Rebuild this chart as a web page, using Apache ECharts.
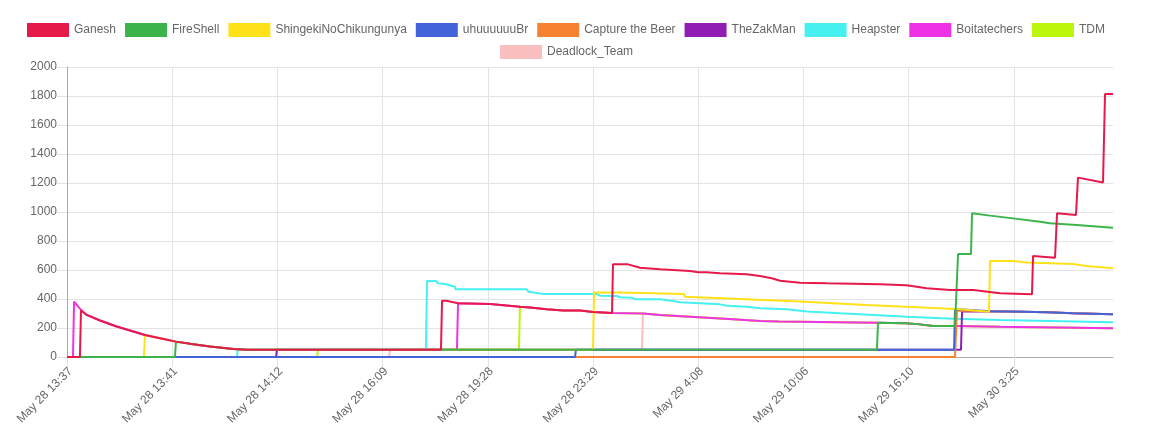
<!DOCTYPE html>
<html><head><meta charset="utf-8">
<script src="https://cdn.jsdelivr.net/npm/echarts@6/dist/echarts.min.js"></script>
<style>html,body{margin:0;padding:0;background:#fff}#c{width:1163px;height:443px}</style>
</head><body><div id="c"></div><script>
const tickLabels = ['May 28 13:37','May 28 13:41','May 28 14:12','May 28 16:09','May 28 19:28','May 28 23:29','May 29 4:08','May 29 10:06','May 29 16:10','May 30 3:25'];
const teams = ['Ganesh','FireShell','ShingekiNoChikungunya','uhuuuuuuBr','Capture the Beer','TheZakMan','Heapster','Boitatechers','TDM','Deadlock_Team'];
const colors = ['#e6194b','#3cb44b','#ffe119','#4363d8','#f58231','#911eb4','#46f0f0','#f032e6','#bcf60c','#fabebe'];
// x = time index (tick label every 10 units), y = score
const Ganesh = [[0,0],[1.23,0],[1.33,322],[1.87,290],[3.14,252],[4.72,210],[6.31,176],[7.41,152],[8.84,130],[10.36,106],[12.0,88],[13.59,72],[15.81,56],[17.11,50],
 [35.55,50],[35.65,388],[36.06,388],[36.22,377],[37.17,370],[40.21,365],[40.37,358],[43.06,347],[44.01,342],[45.60,329],[47.18,320],[48.76,320],[50.03,310],[51.81,303],
 [51.90,639],[53.33,639],[54.47,616],[56.37,605],[59.22,593],[60.0,584],[60.77,584],[62.07,577],[64.61,570],[65.87,559],[66.99,543],[67.78,526],[69.68,512],[72.21,508],[77.28,501],
 [79.75,495],[80.13,492],[81.72,474],[83.94,462],[86.17,462],[88.69,439],[91.73,433],[91.83,697],[93.92,685],[94.11,991],[95.91,979],[96.10,1237],[98.48,1203],[98.67,1814],[99.43,1814]];
const FireShell = [[0,0],[10.26,0],[10.36,106],[12.0,88],[13.59,72],[15.81,56],[17.11,50],[76.99,50],[77.09,237],[79.75,232],[81.08,225],[82.35,214],[84.41,214],[84.70,710],[85.93,710],[86.03,991],[87.74,975],[89.92,956],[92.49,933],[93.44,922],[95.98,910],[99.43,892]];
const Shingeki = [[0,0],[7.31,0],[7.41,152],[8.84,130],[10.36,106],[12.0,88],[13.59,72],[15.81,56],[17.11,50],[50.0,50],[50.10,444],[52.66,444],[52.76,434],[58.65,434],[58.75,416],[66.25,393],[66.35,386],[69.68,382],[75.95,359],[79.75,347],[84.89,329],[87.64,312],[87.74,662],[89.92,662],[91.22,651],[95.63,641],[96.93,628],[99.43,612]];
const uhuuuuuuBr = [[0,0],[48.29,0],[48.38,50],[84.32,50],[84.41,326],[84.89,329],[87.74,316],[90.88,312],[93.16,308],[95.63,301],[99.43,294]];
const CaptureTheBeer = [[0,0],[84.41,0],[84.60,320],[87.74,316],[90.88,312],[93.16,308],[95.63,301],[99.43,294]];
const TheZakMan = [[0,0],[19.87,0],[19.96,50],[84.98,50],[85.08,314],[87.74,316],[90.88,312],[93.16,308],[95.63,301],[99.43,294]];
const Heapster = [[0,0],[16.15,0],[16.25,53],[17.11,50],[34.12,50],[34.22,524],[35.08,524],[35.27,508],[35.93,503],[36.12,492],[36.88,485],[36.93,467],[43.70,467],[43.86,450],[45.29,434],[50.35,434],[50.67,423],[52.25,421],[52.57,412],[53.68,409],[54.0,398],[56.37,398],[57.60,386],[58.27,377],[60.17,370],[62.07,363],[62.74,354],[64.64,347],[65.87,336],[68.44,329],[70.34,314],[73.48,301],[79.85,278],[84.22,264],[88.69,255],[99.43,239]];
const Boitatechers = [[0,0],[0.57,0],[0.67,381],[1.33,325],[1.87,290],[3.14,252],[4.72,210],[6.31,176],[7.41,152],[8.84,130],[10.36,106],[12.0,88],[13.59,72],[15.81,56],[17.11,50],
 [37.07,50],[37.17,370],[40.21,365],[40.37,358],[43.06,347],[44.01,342],[45.60,329],[47.18,320],[48.76,320],[50.03,310],[51.81,303],[54.75,300],[56.37,290],[59.22,278],[63.31,260],[65.87,248],[67.68,244],[77.09,237],[79.75,232],[81.08,225],[82.35,214],[84.41,214],[88.69,209],[99.43,198]];
const TDM = [[0,0],[23.76,0],[23.86,50],[42.96,50],[43.06,347],[44.01,342],[45.60,329],[47.18,320],[48.76,320],[50.03,310],[51.81,303],[54.75,300],[56.37,290],[59.22,278],[63.31,260],[65.87,248],[67.68,244],[77.09,237],[79.75,232],[81.08,225],[82.35,214],[84.41,214],[88.69,209],[99.43,198]];
const DeadlockTeam = [[0,0],[30.61,0],[30.70,50],[54.66,50],[54.75,300],[56.37,290],[59.22,278],[63.31,260],[65.87,248],[67.68,244],[77.09,237],[79.75,232],[81.08,225],[82.35,214],[84.41,214],[88.69,209],[99.43,198]];
const seriesValues = [Ganesh, FireShell, Shingeki, uhuuuuuuBr, CaptureTheBeer, TheZakMan, Heapster, Boitatechers, TDM, DeadlockTeam];

const font = '"Liberation Sans", Arial, Helvetica, sans-serif';
const legendCommon = {icon:'rect', itemWidth:42, itemHeight:14, itemGap:9, padding:0, textStyle:{color:'#666', fontSize:12, fontFamily:font}, selectedMode:false};
const chart = echarts.init(document.getElementById('c'), null, {renderer:'canvas'});
chart.setOption({
  animation:false,
  textStyle:{fontFamily:font},
  legend:[
    Object.assign({top:23, left:27, data:teams.slice(0,9)}, legendCommon),
    Object.assign({top:45, left:500, data:teams.slice(9)}, legendCommon)
  ],
  grid:{left:67, right:50, top:67, bottom:86, containLabel:false},
  xAxis:{type:'value', min:0, max:99.43, interval:10,
    axisLine:{show:true, onZero:false, lineStyle:{color:'#aaa'}},
    axisTick:{show:true, length:10, lineStyle:{color:'#e3e3e3'}},
    splitLine:{show:true, showMaxLine:false, lineStyle:{color:'#e3e3e3'}},
    axisLabel:{rotate:45, margin:16, padding:[0,-5,0,0], color:'#666', fontSize:12, fontFamily:font, showMaxLabel:false,
      formatter:function(v){ const i=Math.round(v/10); return (Math.abs(v-i*10)<1e-6 && i<tickLabels.length)? tickLabels[i] : ''; }}
  },
  yAxis:{type:'value', min:0, max:2000, interval:200,
    axisLine:{show:true, lineStyle:{color:'#aaa'}},
    axisTick:{show:true, length:10, lineStyle:{color:'#e3e3e3'}},
    splitLine:{show:true, lineStyle:{color:'#e3e3e3'}},
    axisLabel:{margin:10, color:'#666', fontSize:12, fontFamily:font, formatter:function(v){ return String(v); }}
  },
  series: teams.map((name,i)=>({
    name:name, type:'line', data:seriesValues[i], showSymbol:false, symbol:'none', z:20-i,
    lineStyle:{width:2, color:colors[i]}, itemStyle:{color:colors[i]}, emphasis:{disabled:true}
  }))
});
</script></body></html>
